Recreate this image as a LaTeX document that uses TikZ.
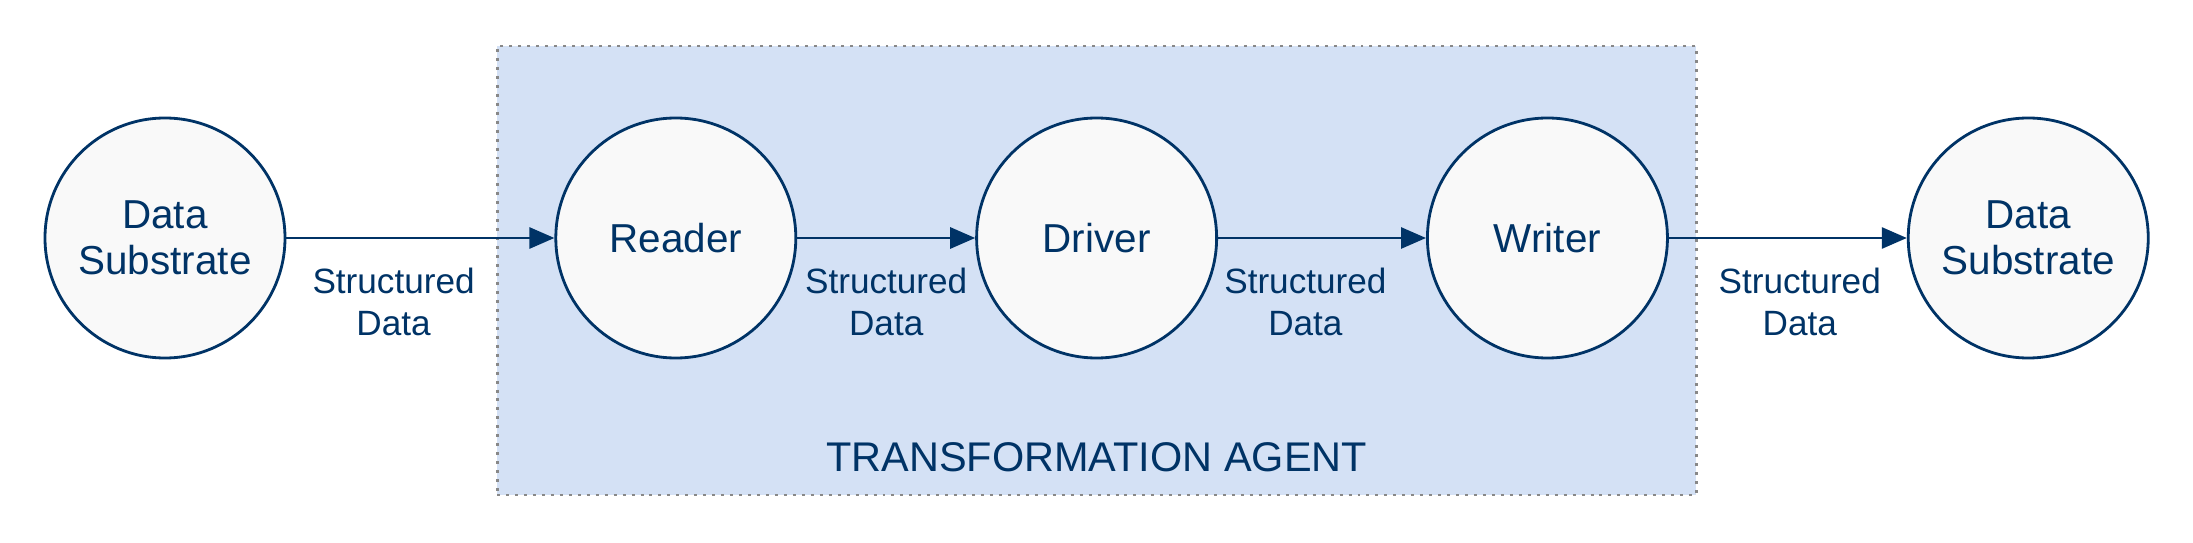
\documentclass[tikz,border=0pt]{standalone}
\usepackage{fontspec}
\setmainfont{Liberation Sans}
\usetikzlibrary{arrows.meta,positioning,calc,backgrounds}
\definecolor{AgentNavy}{RGB}{0,51,102}
\definecolor{AgentPaleBlue}{RGB}{212,225,245}
\definecolor{AgentCircleFill}{RGB}{249,249,249}
\definecolor{AgentDots}{RGB}{136,136,136}

\begin{document}
\begin{tikzpicture}[
    stage/.style={circle,draw=AgentNavy,line width=0.8pt,fill=AgentCircleFill,minimum size=2.40cm,inner sep=0pt,align=center,text=AgentNavy,font=\fontsize{11.5}{13.1}\selectfont},
    flow/.style={-{Triangle[length=0.25cm,width=0.21cm]},line width=0.8pt,draw=AgentNavy},
    lbl/.style={below=0.17cm,align=center,text=AgentNavy,font=\fontsize{10}{12}\selectfont},
    agentbox/.style={draw=AgentDots,line width=0.85pt,dash pattern=on 0.85pt off 1.7pt,fill=AgentPaleBlue,minimum width=11.99cm,minimum height=4.49cm,inner sep=0pt}
  ]
    \useasboundingbox (0,0) rectangle (21.93,-5.43);
    \node[stage] (source) at (1.65,-2.38) {Data\\Substrate};
    \node[stage,right=2.68cm of source] (reader) {Reader};
    \node[stage,right=1.78cm of reader] (driver) {Driver};
    \node[stage,right=2.08cm of driver] (writer) {Writer};
    \node[stage,right=2.38cm of writer] (sink) {Data\\Substrate};
    \begin{scope}[on background layer]
      \node[agentbox] (agent) at ($(driver)+(0,-0.325)$) {};
    \end{scope}
    \node[anchor=base,text=AgentNavy,font=\fontsize{11.8}{14}\selectfont] (agentname) at ($(agent.south)+(0,0.25)$) {TRANSFORMATION AGENT};
    \draw[flow] (source) -- node[lbl,pos=0.4] {Structured\\Data} (reader);
    \draw[flow] (reader) -- node[lbl,pos=0.5] {Structured\\Data} (driver);
    \draw[flow] (driver) -- node[lbl,pos=0.42] {Structured\\Data} (writer);
    \draw[flow] (writer) -- node[lbl,pos=0.55] {Structured\\Data} (sink);
\end{tikzpicture}
\end{document}
